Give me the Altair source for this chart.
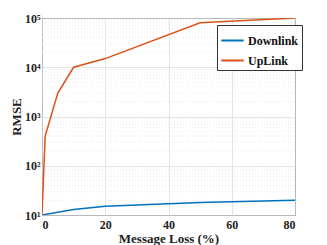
import altair as alt
import pandas as pd

# Data
ul_loss = [0, 1, 5, 10, 20, 50, 80]
ul_rmse = [10, 400, 3000, 10000, 15000, 80000, 100000]
dl_loss = [0, 10, 20, 50, 80]
dl_rmse = [10, 13, 15, 18, 20]
series_names = ["Downlink", "UpLink"]
series_colors = ["#0072BD", "#D95319"]
y_ticks = [10, 100, 1000, 10000, 100000]
x_ticks = [0, 20, 40, 60, 80]
minor_y = [m * 10 ** k for k in range(1, 5) for m in range(2, 10)]

df = pd.concat([
    pd.DataFrame({"loss": dl_loss, "rmse": dl_rmse, "series": "Downlink"}),
    pd.DataFrame({"loss": ul_loss, "rmse": ul_rmse, "series": "UpLink"}),
])
minor_df = pd.DataFrame({"rmse": minor_y})

FONT = "Liberation Serif"

y_scale = alt.Scale(type="log", domain=[10, 100000])
x_scale = alt.Scale(domain=[0, 80], nice=False)

sup_expr = ("'10' + (datum.value == 10 ? '¹' : datum.value == 100 ? '²' : "
            "datum.value == 1000 ? '³' : datum.value == 10000 ? '⁴' : '⁵')")

y_axis = alt.Axis(values=y_ticks, grid=True, ticks=False, domain=False,
                  labelExpr=sup_expr, labelPadding=2, titlePadding=1)

minor = alt.Chart(minor_df).mark_rule(
    color="#e4e4e4", strokeDash=[1, 2], strokeWidth=0.8
).encode(y=alt.Y("rmse:Q", scale=y_scale, title="RMSE", axis=y_axis))

lines = alt.Chart(df).mark_line(strokeWidth=1.5, clip=True).encode(
    x=alt.X("loss:Q", scale=x_scale, title="Message Loss (%)",
            axis=alt.Axis(values=x_ticks, grid=True, ticks=False, domain=False,
                          labelPadding=4, titlePadding=2)),
    y=alt.Y("rmse:Q", scale=y_scale, title="RMSE", axis=y_axis),
    color=alt.Color("series:N",
                    scale=alt.Scale(domain=series_names, range=series_colors),
                    legend=alt.Legend(title=None, orient="none", legendX=175, legendY=7,
                                      symbolType="stroke", symbolStrokeWidth=2,
                                      symbolSize=500, strokeColor="#333333",
                                      fillColor="white", padding=3,
                                      labelFont=FONT, labelFontWeight="bold",
                                      labelFontSize=12, labelColor="#111111",
                                      rowPadding=1, labelOffset=3)),
)

chart = alt.layer(minor, lines).properties(
    width=253, height=197,
    autosize=alt.AutoSizeParams(type="none"),
    padding={"left": 34, "top": 10, "right": 24, "bottom": 30},
).configure_view(stroke="#262626", strokeWidth=1).configure_axis(
    labelFont=FONT, labelFontWeight="bold", labelFontSize=12, labelColor="#222222",
    titleFont=FONT, titleFontWeight="bold", titleFontSize=13, titleColor="#222222",
    gridColor="#dedede", gridWidth=0.8,
)

chart.save("out.html", embed_options={"renderer": "svg", "actions": False})
